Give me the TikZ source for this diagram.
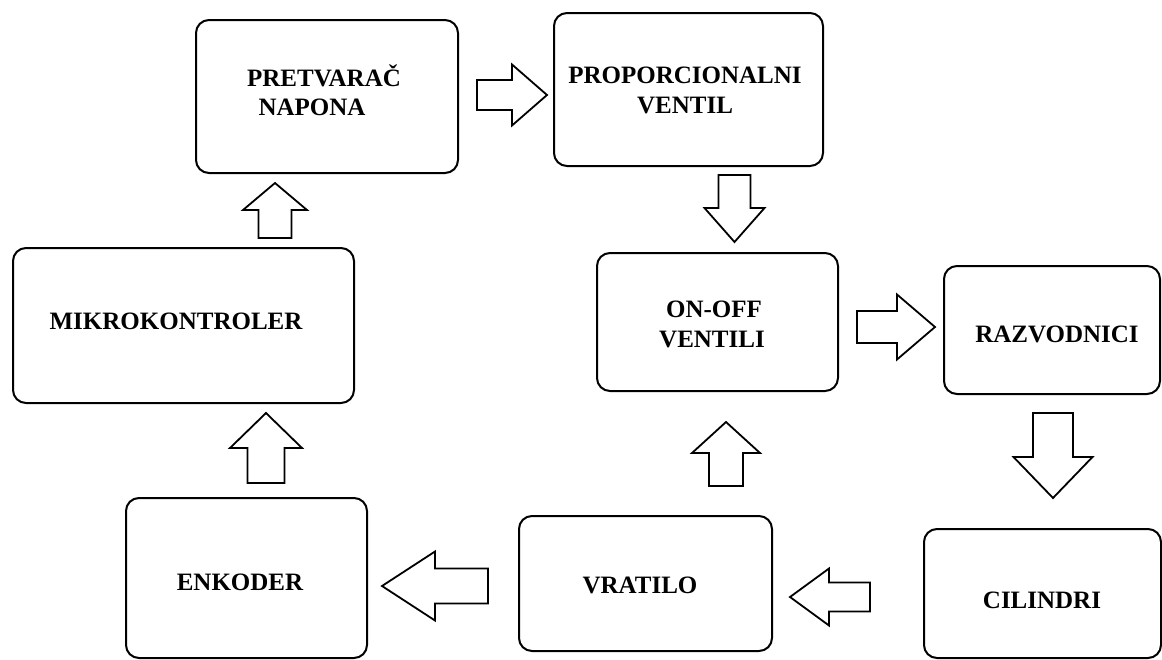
\documentclass[tikz,border=0pt]{standalone}
\usepackage{fontspec}
\setmainfont{Liberation Serif}
\tikzset{
  box/.style={draw, line width=2pt, rounded corners=13pt, inner sep=0pt, anchor=north west},
  lbl/.style={font=\bfseries\fontsize{25}{30}\selectfont, inner sep=0pt, anchor=base},
  barrow/.style={draw, line width=1.8pt, fill=white, line join=miter}
}
% #1 tail coordinate, #2 direction angle, #3 length, #4 head-base distance, #5 shaft half width, #6 head half width
\newcommand{\blockarrow}[6]{%
  \draw[barrow, shift={(#1)}, rotate=#2] (0,-#5) -- (#4,-#5) -- (#4,-#6) -- (#3,0) -- (#4,#6) -- (#4,#5) -- (0,#5) -- cycle;}
\begin{document}
\begin{tikzpicture}[x=1pt, y=-1pt]
\useasboundingbox (0,0) rectangle (1162,659);
\fill[white] (0,0) rectangle (1162,659);

% boxes
\node[box, minimum width=262pt, minimum height=153pt] (pret) at (195,19) {};
\node[box, minimum width=269pt, minimum height=153pt] (prop) at (553,12) {};
\node[box, minimum width=341pt, minimum height=155pt] (mikro) at (12,247) {};
\node[box, minimum width=241pt, minimum height=138pt] (onoff) at (596,252) {};
\node[box, minimum width=216pt, minimum height=128pt] (raz) at (943,265) {};
\node[box, minimum width=241pt, minimum height=160pt] (enk) at (125,497) {};
\node[box, minimum width=253pt, minimum height=135pt] (vrat) at (518,515) {};
\node[box, minimum width=237pt, minimum height=129pt] (cil) at (923,528) {};

% labels
\node[lbl] (t1a) at (324,86) {PRETVARAČ};
\node[lbl] (t1b) at (312,115) {NAPONA};
\node[lbl] (t2a) at (685,83) {PROPORCIONALNI};
\node[lbl] (t2b) at (685,113) {VENTIL};
\node[lbl] (t3) at (176,329) {MIKROKONTROLER};
\node[lbl] (t4a) at (714,317) {ON-OFF};
\node[lbl] (t4b) at (712,347) {VENTILI};
\node[lbl] (t5) at (1057,342) {RAZVODNICI};
\node[lbl] (t6) at (240,590) {ENKODER};
\node[lbl] (t7) at (640,593) {VRATILO};
\node[lbl] (t8) at (1042,608) {CILINDRI};

% block arrow tails
\coordinate (a1) at (477,95);
\coordinate (a2) at (734.5,175);
\coordinate (a3) at (857,327);
\coordinate (a4) at (1053,413);
\coordinate (a5) at (870,597);
\coordinate (a6) at (726,486);
\coordinate (a7) at (488,586);
\coordinate (a8) at (266,483);
\coordinate (a9) at (275,238);

\blockarrow{a1}{0}{70}{35}{15}{30.5}
\blockarrow{a2}{-90}{67}{33}{16}{30}
\blockarrow{a3}{0}{78}{40}{16}{32.5}
\blockarrow{a4}{-90}{85}{44}{20}{39.5}
\blockarrow{a5}{180}{80}{41}{14.5}{28.5}
\blockarrow{a6}{90}{64}{33}{17}{34}
\blockarrow{a7}{180}{106}{53}{17.5}{34.5}
\blockarrow{a8}{90}{70}{35}{18.5}{36}
\blockarrow{a9}{90}{55}{28}{16.5}{32}
\end{tikzpicture}
\end{document}
